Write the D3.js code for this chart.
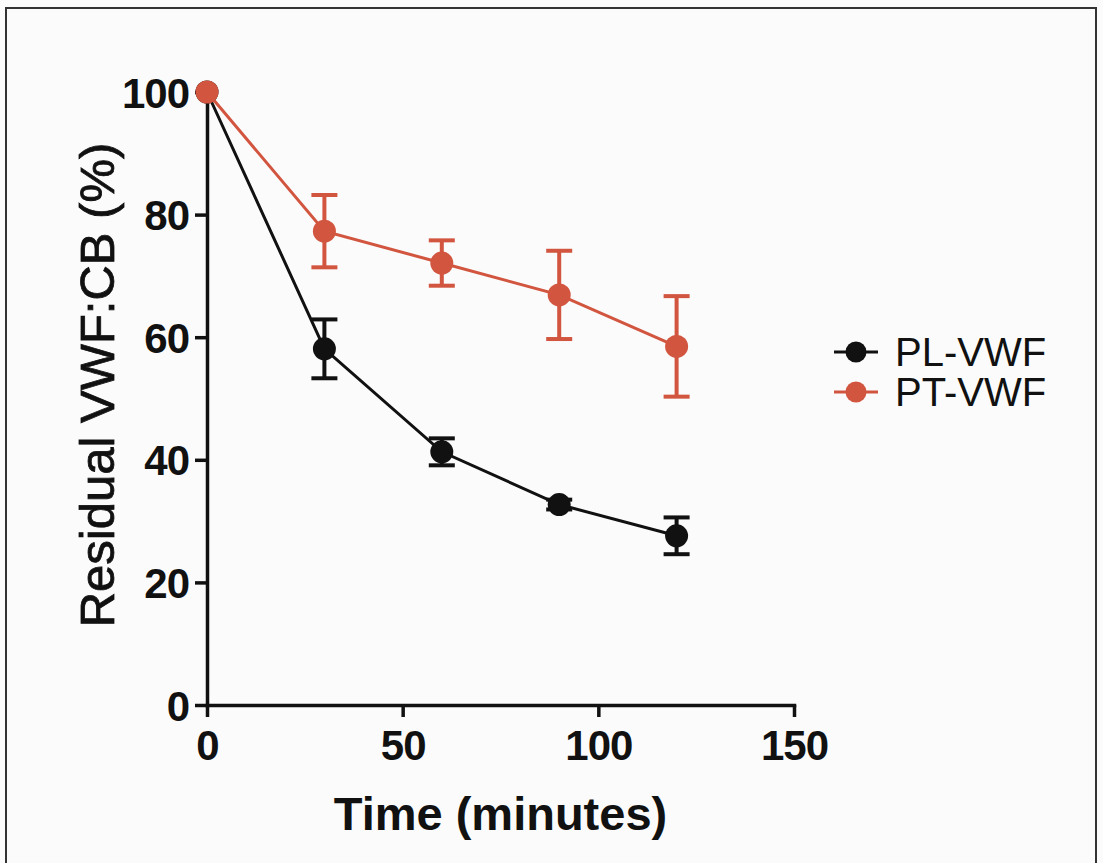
<!DOCTYPE html>
<html>
<head>
<meta charset="utf-8">
<script src="https://cdn.jsdelivr.net/npm/d3@7"></script>
<style>
  html, body { margin: 0; padding: 0; background: #fbfbfb; }
  svg { display: block; }
</style>
</head>
<body>
<svg id="chart" width="1103" height="863"></svg>
<script>
// Sampling times (minutes)
const times = [0, 30, 60, 90, 120];

// Residual VWF:CB (%) — mean and error (half-height of bar)
const plMean = [100, 58.1, 41.3, 32.7, 27.6];
const plErr  = [0, 4.8, 2.2, 0.8, 3.0];
const ptMean = [100, 77.3, 72.1, 66.9, 58.5];
const ptErr  = [0, 5.9, 3.7, 7.2, 8.2];

const seriesNames = ["PL-VWF", "PT-VWF"];
const seriesColors = ["#111111", "#d2553f"];

const xTicks = [0, 50, 100, 150];
const yTicks = [0, 20, 40, 60, 80, 100];

const xLabel = "Time (minutes)";
const yLabel = "Residual VWF:CB (%)";

const svg = d3.select("#chart");

// outer frame
svg.append("rect")
  .attr("x", 6).attr("y", 8)
  .attr("width", 1090).attr("height", 870)
  .attr("fill", "none")
  .attr("stroke", "#333")
  .attr("stroke-width", 2);

const x = d3.scaleLinear().domain([0, 150]).range([207, 794]);
const y = d3.scaleLinear().domain([0, 100]).range([705, 92]);

const axisFont = "'Liberation Sans', Arial, sans-serif";

// y axis
const gy = svg.append("g")
  .attr("transform", `translate(${x(0)},0)`)
  .call(d3.axisLeft(y).tickValues(yTicks).tickSize(12).tickSizeOuter(0).tickPadding(6));
// x axis
const gx = svg.append("g")
  .attr("transform", `translate(0,${y(0)})`)
  .call(d3.axisBottom(x).tickValues(xTicks).tickSize(12).tickSizeOuter(0).tickPadding(13));

[gy, gx].forEach(g => {
  g.select(".domain").attr("stroke", "#111").attr("stroke-width", 3.5).attr("stroke-linecap", "square");
  g.selectAll(".tick line").attr("stroke", "#111").attr("stroke-width", 3.5);
  g.selectAll(".tick text")
    .attr("fill", "#111")
    .style("font-family", axisFont)
    .style("font-weight", "bold")
    .style("font-size", "42px")
    .attr("letter-spacing", -1);
});
gy.selectAll(".tick text").attr("dy", "0.36em");

// axis titles
svg.append("text")
  .attr("x", (x(0) + x(150)) / 2)
  .attr("y", 830)
  .attr("text-anchor", "middle")
  .style("font-family", axisFont)
  .style("font-weight", "bold")
  .style("font-size", "47px")
  .attr("fill", "#111")
  .text(xLabel);

svg.append("text")
  .attr("transform", "translate(114,385) rotate(-90)")
  .attr("text-anchor", "middle")
  .style("font-family", axisFont)
  .style("font-size", "49px")
  .attr("fill", "#111")
  .attr("stroke", "#111")
  .attr("stroke-width", 0.8)
  .text(yLabel);

const series = [
  { name: seriesNames[0], color: seriesColors[0], mean: plMean, err: plErr },
  { name: seriesNames[1], color: seriesColors[1], mean: ptMean, err: ptErr }
];

const line = d3.line().x(d => x(d.t)).y(d => y(d.v));

series.forEach(s => {
  const pts = times.map((t, i) => ({ t, v: s.mean[i], e: s.err[i] }));
  const g = svg.append("g");

  g.append("path")
    .datum(pts)
    .attr("d", line)
    .attr("fill", "none")
    .attr("stroke", s.color)
    .attr("stroke-width", 3);

  const bars = g.selectAll(".err").data(pts.filter(d => d.e > 0)).join("g");
  bars.append("line")
    .attr("x1", d => x(d.t)).attr("x2", d => x(d.t))
    .attr("y1", d => y(d.v + d.e)).attr("y2", d => y(d.v - d.e))
    .attr("stroke", s.color).attr("stroke-width", 4);
  [1, -1].forEach(sign => {
    bars.append("line")
      .attr("x1", d => x(d.t) - 13).attr("x2", d => x(d.t) + 13)
      .attr("y1", d => y(d.v + sign * d.e)).attr("y2", d => y(d.v + sign * d.e))
      .attr("stroke", s.color).attr("stroke-width", 4);
  });

  g.selectAll("circle").data(pts).join("circle")
    .attr("cx", d => x(d.t)).attr("cy", d => y(d.v))
    .attr("r", 11.5)
    .attr("fill", s.color);
});

// legend
const legend = svg.append("g");
series.forEach((s, i) => {
  const ly = 352 + i * 40;
  legend.append("line")
    .attr("x1", 834).attr("x2", 878)
    .attr("y1", ly).attr("y2", ly)
    .attr("stroke", s.color).attr("stroke-width", 3);
  legend.append("circle")
    .attr("cx", 856).attr("cy", ly).attr("r", 10.5)
    .attr("fill", s.color);
  legend.append("text")
    .attr("x", 895).attr("y", ly)
    .attr("dy", "0.36em")
    .style("font-family", axisFont)
    .style("font-size", "40px")
    .attr("fill", "#111")
    .text(s.name);
});
</script>
</body>
</html>
